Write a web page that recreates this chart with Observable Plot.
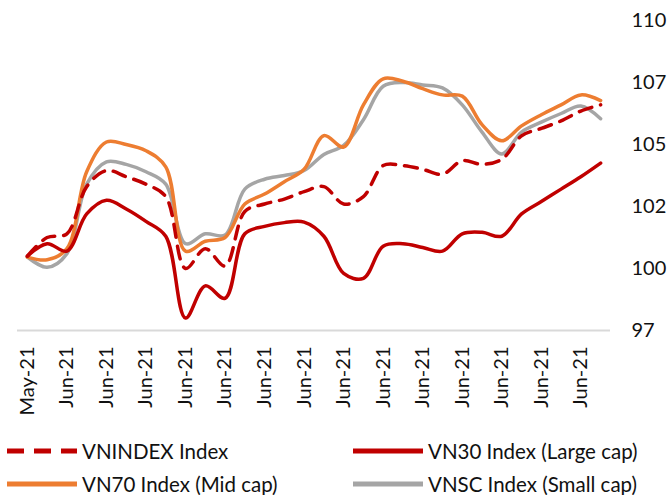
<!DOCTYPE html>
<html>
<head>
<meta charset="utf-8">
<script src="https://cdn.jsdelivr.net/npm/d3@7"></script>
<script src="https://cdn.jsdelivr.net/npm/@observablehq/plot@0.6"></script>
<style>
  body { margin: 0; background: #fff; font-family: Lato, "Noto Sans", sans-serif; }
  #wrap { position: relative; width: 667px; height: 495px; overflow: hidden; }
  .leg { position: absolute; display: flex; align-items: center; font-size: 20.5px; line-height: 22px; color: #111; white-space: nowrap; }
  .leg svg { margin-right: 5px; }
</style>
</head>
<body>
<div id="wrap">
  <div id="chart"></div>
</div>
<script>
// Calendar days May 31 – Jun 29, 2021
const startDate = "2021-05-31";
const endDate = "2021-06-30";
const seriesNames = ["VNINDEX Index", "VN30 Index (Large cap)", "VN70 Index (Mid cap)", "VNSC Index (Small cap)"];
const seriesColors = ["#C00000", "#C00000", "#ED7D31", "#A5A5A5"];
const yTicks = [97.5, 100, 102.5, 105, 107.5, 110];
const yTickLabels = ["97", "100", "102", "105", "107", "110"];

const vnindex = [100.5, 101.25, 101.4, 103.3, 103.95, 103.7, 103.4, 102.9, 100.0, 100.8,
                 100.1, 102.3, 102.6, 102.8, 103.1, 103.3, 102.6, 102.9, 104.15, 104.15,
                 104.0, 103.8, 104.35, 104.2, 104.4, 105.35, 105.65, 105.95, 106.35, 106.6];
const vn30 = [100.5, 101.0, 100.7, 102.2, 102.75, 102.4, 101.9, 101.3, 98.0, 99.3,
              98.8, 101.4, 101.7, 101.85, 101.87, 101.3, 99.8, 99.6, 100.9, 101.0,
              100.85, 100.7, 101.4, 101.46, 101.3, 102.2, 102.7, 103.2, 103.7, 104.25];
const vn70 = [100.46, 100.35, 100.8, 103.9, 105.1, 105.0, 104.75, 104.1, 100.7, 101.1,
              101.25, 102.6, 103.0, 103.5, 104.0, 105.36, 104.9, 106.6, 107.65, 107.55,
              107.25, 107.0, 106.95, 105.8, 105.15, 105.75, 106.2, 106.6, 107.0, 106.77];
const vnsc = [100.46, 100.05, 100.6, 103.4, 104.3, 104.2, 103.9, 103.4, 101.0, 101.4,
              101.35, 103.2, 103.6, 103.75, 103.95, 104.6, 104.96, 106.0, 107.35, 107.5,
              107.4, 107.28, 106.6, 105.5, 104.62, 105.5, 105.9, 106.25, 106.55, 106.04];

const days = d3.utcDay.range(new Date(startDate), new Date(endDate));
const allSeries = [vnindex, vn30, vn70, vnsc];
const data = [];
allSeries.forEach((vals, s) => vals.forEach((v, i) => data.push({date: days[i], value: v, series: seriesNames[s]})));
const xTicks = days.filter((d, i) => i % 2 === 0);
const fmt = d3.utcFormat("%b-%y");
const half = 12 * 3600 * 1000;
const xDomain = [new Date(+days[0] - half), new Date(+days[days.length - 1] + half)];

const chart = Plot.plot({
  width: 667,
  height: 425,
  marginLeft: 17,
  marginRight: 57,
  marginTop: 20,
  marginBottom: 95,
  style: {fontFamily: "Lato, 'Noto Sans', sans-serif", fontSize: "20px", color: "#111", background: "#fff"},
  x: {type: "utc", domain: xDomain},
  y: {domain: [97.5, 110]},
  marks: [
    Plot.ruleY([97.5], {stroke: "#D9D9D9", strokeWidth: 2}),
    Plot.axisX({ticks: xTicks, tickFormat: fmt, tickRotate: -90, tickSize: 0, tickPadding: 16, label: null, fontSize: 20}),
    Plot.axisY({anchor: "right", ticks: yTicks, tickFormat: (d) => yTickLabels[yTicks.indexOf(d)], tickSize: 0, tickPadding: 21, label: null, fontSize: 20}),
    Plot.line(data.filter(d => d.series === seriesNames[3]), {x: "date", y: "value", stroke: seriesColors[3], strokeWidth: 3.5, curve: "catmull-rom"}),
    Plot.line(data.filter(d => d.series === seriesNames[2]), {x: "date", y: "value", stroke: seriesColors[2], strokeWidth: 3.5, curve: "catmull-rom"}),
    Plot.line(data.filter(d => d.series === seriesNames[1]), {x: "date", y: "value", stroke: seriesColors[1], strokeWidth: 3.5, curve: "catmull-rom"}),
    Plot.line(data.filter(d => d.series === seriesNames[0]), {x: "date", y: "value", stroke: seriesColors[0], strokeWidth: 3.5, strokeDasharray: "13,9", curve: "catmull-rom"})
  ]
});
document.getElementById("chart").appendChild(chart);

// Legend
const legPos = [[7, 451], [353, 451], [7, 484], [353, 484]];
const wrap = document.getElementById("wrap");
seriesNames.forEach((name, i) => {
  const div = document.createElement("div");
  div.className = "leg";
  div.style.left = legPos[i][0] + "px";
  div.style.top = (legPos[i][1] - 11) + "px";
  div.style.height = "22px";
  const dash = i === 0 ? 'stroke-dasharray="17,10"' : "";
  div.innerHTML = `<svg width="70" height="10"><line x1="0" x2="70" y1="5" y2="5" stroke="${seriesColors[i]}" stroke-width="5" ${dash}/></svg><span>${name}</span>`;
  wrap.appendChild(div);
});
</script>
</body>
</html>
